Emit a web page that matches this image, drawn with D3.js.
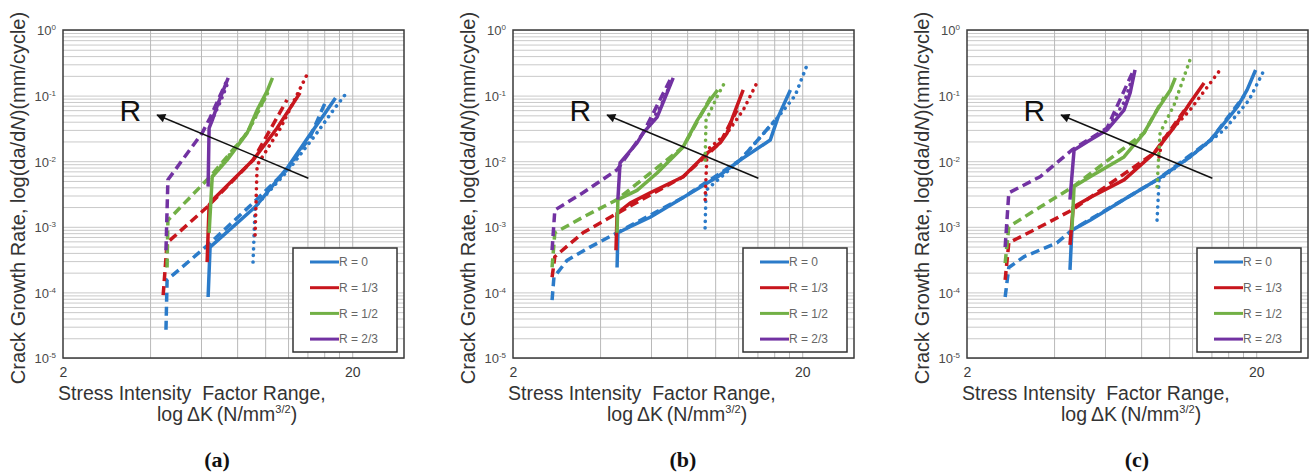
<!DOCTYPE html>
<html>
<head>
<meta charset="utf-8">
<script src="https://cdn.jsdelivr.net/npm/d3@7"></script>
<style>
  body { margin: 0; background: #fff; }
  svg { font-family: "Liberation Sans", Arial, sans-serif; }
</style>
</head>
<body>
<div id="chart"></div>
<script>

// categories / axis values
const R_LABELS = ["R = 0", "R = 1/3", "R = 1/2", "R = 2/3"];
const PANEL_NAMES = ["(a)", "(b)", "(c)"];
const Y_TICKS = [1e-5, 1e-4, 1e-3, 1e-2, 1e-1, 1];
const Y_TICK_EXP = ["-5", "-4", "-3", "-2", "-1", "0"];
const X_TICKS = [2, 20];
const X_GRID = [4, 6, 8, 10, 12, 14, 16, 18, 20];

// [deltaK, da/dN], panel (a)
const A_R0_SOLID = [[6.35, 8.5e-5], [6.45, 4.9e-4], [9.23, 2.0e-3], [12.0, 8.2e-3], [14.1, 0.0234], [16.1, 0.054], [17.5, 0.092]];
const A_R0_DASH = [[4.54, 2.7e-5], [4.58, 1.55e-4], [6.35, 5.3e-4], [9.08, 2.3e-3], [11.9, 7.4e-3], [14.3, 0.0234], [16.1, 0.077]];
const A_R0_DOT = [[9.08, 2.9e-4], [9.23, 2.0e-3], [12.2, 7.9e-3], [15.1, 0.027], [17.2, 0.060], [19.2, 0.113]];
const A_R1_SOLID = [[6.30, 2.9e-4], [6.40, 2.15e-3], [6.61, 2.6e-3], [9.08, 0.0104], [11.0, 0.032], [13.2, 0.11]];
const A_R1_DASH = [[4.44, 9.1e-5], [4.58, 5.7e-4], [6.30, 2.0e-3], [9.08, 0.0104], [11.9, 0.086]];
const A_R1_DOT = [[9.23, 7.5e-4], [9.38, 8.7e-3], [11.3, 0.032], [14.1, 0.229]];
const A_R2_SOLID = [[6.40, 8.1e-4], [6.56, 5.8e-3], [7.38, 0.0104], [8.67, 0.027], [9.38, 0.060], [10.2, 0.122], [10.6, 0.186]];
const A_R2_DASH = [[4.58, 2.4e-4], [4.61, 1.26e-3], [6.45, 5.8e-3], [8.67, 0.027], [10.2, 0.113]];
const A_R2_DOT = [[6.6, 6.0e-3], [8.8, 0.03], [10.4, 0.13]];
const A_R3_SOLID = [[6.35, 4.1e-3], [6.40, 0.032], [6.56, 0.042], [6.88, 0.077], [7.45, 0.186]];
const A_R3_DASH = [[4.54, 4.4e-4], [4.61, 5.2e-3], [6.06, 0.027], [6.45, 0.046], [7.33, 0.16]];
const A_R3_DOT = [[6.5, 0.04], [7.0, 0.08], [7.4, 0.15]];

// panel (b)
const B_R0_SOLID = [[4.58, 2.4e-4], [4.61, 8.1e-4], [5.08, 1.0e-3], [5.96, 1.4e-3], [7.75, 2.8e-3], [10.2, 5.8e-3], [12.2, 0.0104], [15.5, 0.021], [16.5, 0.047], [18.2, 0.122]];
const B_R0_DASH = [[2.73, 7.6e-5], [2.77, 1.7e-4], [3.08, 3.1e-4], [3.69, 4.9e-4], [4.58, 8.1e-4], [7.75, 2.8e-3], [12.2, 0.0104], [16.1, 0.042]];
const B_R0_DOT = [[9.23, 9.6e-4], [9.30, 3.6e-3], [12.2, 0.0104], [16.5, 0.047], [18.9, 0.10], [21.0, 0.33]];
const B_R1_SOLID = [[4.54, 4.4e-4], [4.58, 1.6e-3], [5.08, 2.3e-3], [5.96, 3.3e-3], [7.75, 5.8e-3], [9.38, 0.0133], [10.4, 0.019], [11.0, 0.027], [11.5, 0.047], [12.5, 0.122]];
const B_R1_DASH = [[2.73, 1.7e-4], [2.79, 3.5e-4], [3.49, 8.1e-4], [4.58, 1.6e-3], [7.75, 5.8e-3], [10.4, 0.019], [11.9, 0.060]];
const B_R1_DOT = [[9.23, 2.6e-3], [9.38, 0.0148], [11.0, 0.027], [12.5, 0.060], [14.1, 0.173]];
const B_R2_SOLID = [[4.58, 8.1e-4], [4.61, 2.6e-3], [5.37, 3.6e-3], [6.30, 6.6e-3], [7.75, 0.0165], [8.67, 0.042], [9.61, 0.086], [10.2, 0.122]];
const B_R2_DASH = [[2.73, 2.4e-4], [2.79, 8.1e-4], [3.49, 1.4e-3], [4.58, 2.6e-3], [7.75, 0.0165], [9.84, 0.11]];
const B_R2_DOT = [[9.23, 0.0104], [9.30, 0.042], [10.2, 0.10], [10.8, 0.16]];
const B_R3_SOLID = [[4.61, 2.6e-3], [4.69, 9.4e-3], [5.37, 0.019], [5.64, 0.027], [6.30, 0.047], [6.82, 0.11], [7.16, 0.186]];
const B_R3_DASH = [[2.73, 4.4e-4], [2.79, 1.8e-3], [3.49, 3.3e-3], [4.58, 7.4e-3], [5.64, 0.027], [6.98, 0.173]];
const B_R3_DOT = [[5.9, 0.035], [6.5, 0.07], [7.0, 0.15]];

// panel (c)
const C_R0_SOLID = [[4.54, 2.2e-4], [4.61, 8.9e-4], [5.33, 1.26e-3], [6.98, 2.6e-3], [9.08, 5.2e-3], [11.8, 0.0116], [13.9, 0.021], [15.5, 0.038], [17.2, 0.067], [18.6, 0.122], [19.9, 0.246]];
const C_R0_DASH = [[2.71, 8.5e-5], [2.79, 2.4e-4], [3.15, 3.5e-4], [4.09, 5.7e-4], [4.61, 8.9e-4], [9.08, 5.2e-3], [13.9, 0.021], [18.2, 0.10]];
const C_R0_DOT = [[9.08, 1.26e-3], [9.23, 5.2e-3], [11.8, 0.0116], [15.5, 0.030], [18.9, 0.086], [21.3, 0.246]];
const C_R1_SOLID = [[4.54, 5.3e-4], [4.66, 2.0e-3], [5.33, 2.8e-3], [6.98, 5.2e-3], [8.87, 0.0133], [10.4, 0.033], [11.8, 0.077], [13.2, 0.156]];
const C_R1_DASH = [[2.71, 1.55e-4], [2.79, 5.7e-4], [3.58, 1.0e-3], [4.61, 1.8e-3], [8.87, 0.0133], [11.3, 0.060]];
const C_R1_DOT = [[9.23, 0.0116], [9.46, 0.021], [11.8, 0.060], [15.0, 0.246]];
const C_R2_SOLID = [[4.61, 8.9e-4], [4.69, 4.1e-3], [5.33, 5.8e-3], [6.98, 0.0116], [8.19, 0.027], [9.08, 0.060], [10.1, 0.122], [10.5, 0.186]];
const C_R2_DASH = [[2.71, 2.8e-4], [2.79, 1.0e-3], [3.58, 2.0e-3], [4.66, 4.1e-3], [8.19, 0.027], [9.61, 0.095]];
const C_R2_DOT = [[9.08, 4.1e-3], [9.30, 0.027], [10.4, 0.072], [11.8, 0.35]];
const C_R3_SOLID = [[4.54, 2.6e-3], [4.69, 0.0148], [5.33, 0.021], [6.10, 0.030], [6.98, 0.060], [7.33, 0.11], [7.62, 0.246]];
const C_R3_DASH = [[2.71, 4.9e-4], [2.79, 3.3e-3], [3.58, 5.8e-3], [4.61, 0.0148], [6.10, 0.032], [7.45, 0.22]];
const C_R3_DOT = [[6.2, 0.035], [7.0, 0.08], [7.5, 0.2]];

// arrow annotation, in data units (tail -> head)
const ARROW_TAIL = [14.1, 0.0055];
const ARROW_HEAD = [4.23, 0.0506];

const PANEL_SERIES = [
  [[A_R0_SOLID, A_R0_DASH, A_R0_DOT], [A_R1_SOLID, A_R1_DASH, A_R1_DOT], [A_R2_SOLID, A_R2_DASH, A_R2_DOT], [A_R3_SOLID, A_R3_DASH, A_R3_DOT]],
  [[B_R0_SOLID, B_R0_DASH, B_R0_DOT], [B_R1_SOLID, B_R1_DASH, B_R1_DOT], [B_R2_SOLID, B_R2_DASH, B_R2_DOT], [B_R3_SOLID, B_R3_DASH, B_R3_DOT]],
  [[C_R0_SOLID, C_R0_DASH, C_R0_DOT], [C_R1_SOLID, C_R1_DASH, C_R1_DOT], [C_R2_SOLID, C_R2_DASH, C_R2_DOT], [C_R3_SOLID, C_R3_DASH, C_R3_DOT]]
];

const COLORS = ["#2b7bc9", "#c8161d", "#72b046", "#7232a2"];
const DASHES = [null, "9,5", "0.1,6.5"];

const FRAME_WIDTH = 1312;
const FRAME_HEIGHT = 473;
const PLOT_TOP = 30;
const VIS_WIDTH = 341;
const VIS_HEIGHT = 328;
const PANEL_LEFTS = [63, 513, 967];
const CAPTION_X = [217, 683, 1137];

const X_SCALE = d3.scaleLog().domain([2, 30.2]).range([0, VIS_WIDTH]);
const Y_SCALE = d3.scaleLog().domain([1e-5, 1]).range([VIS_HEIGHT, 0]);

// minor log gridlines 1..9 x 10^k
const Y_GRID = [];
Y_TICKS.slice(0, -1).forEach((t) => { for (let m = 1; m < 10; m++) Y_GRID.push(t * m); });
Y_GRID.push(1);

const SVG = d3.select("#chart")
  .append("svg")
    .attr("width", FRAME_WIDTH)
    .attr("height", FRAME_HEIGHT);

SVG.append("defs").append("marker")
    .attr("id", "arrowhead")
    .attr("viewBox", "0 0 10 10")
    .attr("refX", 9).attr("refY", 5)
    .attr("markerWidth", 11).attr("markerHeight", 9)
    .attr("markerUnits", "userSpaceOnUse")
    .attr("orient", "auto")
  .append("path")
    .attr("d", "M0,0 L10,5 L0,10 Z")
    .attr("fill", "#111");

const line = d3.line()
  .x((d) => X_SCALE(d[0]))
  .y((d) => Y_SCALE(d[1]));

function drawPanel(p) {
  const G = SVG.append("g")
    .attr("transform", "translate(" + PANEL_LEFTS[p] + "," + PLOT_TOP + ")");

  // horizontal grid
  G.append("g")
    .call(d3.axisLeft(Y_SCALE).tickValues(Y_GRID).tickSize(-VIS_WIDTH).tickFormat(""))
    .call((g) => g.select(".domain").remove())
    .selectAll("line").attr("stroke", "#c9c9c9");

  // vertical grid
  G.append("g")
    .attr("transform", "translate(0," + VIS_HEIGHT + ")")
    .call(d3.axisBottom(X_SCALE).tickValues(X_GRID).tickSize(-VIS_HEIGHT).tickFormat(""))
    .call((g) => g.select(".domain").remove())
    .selectAll("line").attr("stroke", "#b9b9b9");

  // y tick labels 10^n
  const yAxis = G.append("g")
    .call(d3.axisLeft(Y_SCALE).tickValues(Y_TICKS).tickSize(0).tickPadding(7).tickFormat(""));
  yAxis.select(".domain").remove();
  yAxis.selectAll(".tick text")
      .attr("font-size", "13px")
      .attr("fill", "#4a4a4a")
      .attr("dy", "0.38em")
    .each(function(d, i) {
      const t = d3.select(this);
      t.append("tspan").text("10");
      t.append("tspan").attr("font-size", "8px").attr("dy", "-5").text(Y_TICK_EXP[i]);
    });

  // x tick labels
  const xAxis = G.append("g")
    .attr("transform", "translate(0," + VIS_HEIGHT + ")")
    .call(d3.axisBottom(X_SCALE).tickValues(X_TICKS).tickSize(0).tickPadding(9).tickFormat(d3.format("d")));
  xAxis.select(".domain").remove();
  xAxis.selectAll(".tick text").attr("font-size", "14px").attr("fill", "#3a3a3a");

  // frame
  G.append("rect")
    .attr("width", VIS_WIDTH).attr("height", VIS_HEIGHT)
    .attr("fill", "none").attr("stroke", "#3a3a3a").attr("stroke-width", 1.5);

  // data lines
  G.append("clipPath").attr("id", "clip" + p)
    .append("rect").attr("width", VIS_WIDTH).attr("height", VIS_HEIGHT);
  const lines = G.append("g").attr("clip-path", "url(#clip" + p + ")");
  PANEL_SERIES[p].forEach((group, r) => {
    [1, 2, 0].forEach((s) => {
      lines.append("path")
        .datum(group[s])
        .attr("d", line)
        .attr("fill", "none")
        .attr("stroke", COLORS[r])
        .attr("stroke-width", s == 2 ? 3.6 : 3.5)
        .attr("stroke-linecap", s == 2 ? "round" : "butt")
        .attr("stroke-linejoin", "round")
        .attr("stroke-dasharray", DASHES[s]);
    });
  });

  // R arrow
  G.append("line")
    .attr("x1", X_SCALE(ARROW_TAIL[0])).attr("y1", Y_SCALE(ARROW_TAIL[1]))
    .attr("x2", X_SCALE(ARROW_HEAD[0])).attr("y2", Y_SCALE(ARROW_HEAD[1]))
    .attr("stroke", "#111").attr("stroke-width", 1.4)
    .attr("marker-end", "url(#arrowhead)");
  G.append("text")
    .attr("x", X_SCALE(ARROW_HEAD[0]) - 16)
    .attr("y", Y_SCALE(ARROW_HEAD[1]) + 6)
    .attr("text-anchor", "end")
    .attr("font-size", "30px")
    .attr("fill", "#111")
    .text("R");

  // legend
  const L = G.append("g").attr("transform", "translate(" + (VIS_WIDTH - 111) + "," + (VIS_HEIGHT - 110) + ")");
  L.append("rect")
    .attr("width", 104).attr("height", 104)
    .attr("fill", "#fff").attr("stroke", "#333").attr("stroke-width", 1.5);
  L.selectAll(".entry")
    .data(R_LABELS)
    .enter()
    .append("g")
      .attr("transform", (d, i) => "translate(0," + (14 + i * 25.7) + ")")
      .each(function(d, i) {
        const e = d3.select(this);
        e.append("line").attr("x1", 17).attr("x2", 46)
          .attr("stroke", COLORS[i]).attr("stroke-width", 3);
        e.append("text").attr("x", 46).attr("dy", "0.36em")
          .attr("font-size", "12px").attr("fill", "#666").text(d);
      });

  // axis titles
  const yt = G.append("text")
    .attr("transform", "translate(-38," + (VIS_HEIGHT / 2 + 4) + ") rotate(-90)")
    .attr("text-anchor", "middle")
    .attr("font-size", "20px")
    .attr("fill", "#333");
  yt.append("tspan").text("Crack Growth Rate, log(da/d");
  yt.append("tspan").attr("font-style", "italic").text("N");
  yt.append("tspan").text(")(mm/cycle)");

  G.append("text")
    .attr("x", -5).attr("y", VIS_HEIGHT + 42)
    .attr("font-size", "19.5px").attr("fill", "#333")
    .style("white-space", "pre")
    .text("Stress Intensity  Factor Range,");
  const xt2 = G.append("text")
    .attr("x", 94).attr("y", VIS_HEIGHT + 63)
    .attr("font-size", "19.5px").attr("fill", "#333");
  xt2.append("tspan").text("log\u2009\u0394K\u2009(N/mm");
  xt2.append("tspan").attr("font-size", "11px").attr("dy", "-8").text("3/2");
  xt2.append("tspan").attr("dy", "8").text(")");

  SVG.append("text")
    .attr("x", CAPTION_X[p]).attr("y", 467)
    .attr("text-anchor", "middle")
    .attr("font-family", "'Liberation Serif', 'Times New Roman', serif")
    .attr("font-weight", "bold")
    .attr("font-size", "22px")
    .attr("fill", "#111")
    .text(PANEL_NAMES[p]);
}

PANEL_NAMES.forEach((d, p) => drawPanel(p));

</script>
</body>
</html>
